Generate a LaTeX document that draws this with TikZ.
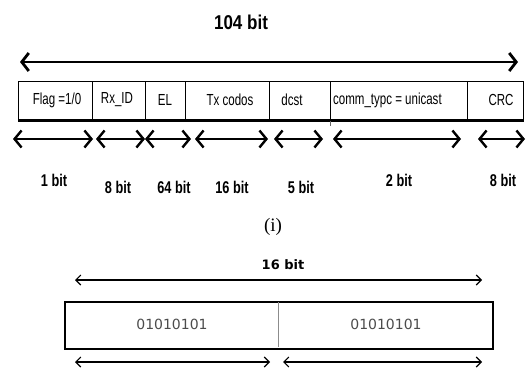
\documentclass[tikz,border=0pt]{standalone}
\usepackage{fontspec}
\usetikzlibrary{arrows.meta}
\newfontfamily\narrowfont[FakeStretch=0.72]{Liberation Sans}
\newfontfamily\bitfont[FakeStretch=0.75]{Liberation Sans}
\newfontfamily\titlefont[FakeStretch=0.85]{Liberation Sans}
\newfontfamily\dejavu{DejaVu Sans}
\newfontfamily\capfont{Liberation Serif}
\begin{document}
\begin{tikzpicture}[x=1pt,y=-1pt,
  field/.style={draw, line width=1pt, minimum height=39pt, inner sep=0pt, anchor=north west},
  fieldtext/.style={font=\narrowfont\fontsize{16}{16}\selectfont, inner sep=0pt},
  bitlabel/.style={font=\bitfont\bfseries\fontsize{17}{17}\selectfont, inner sep=0pt},
  bigarrow/.style={line width=2.8pt, {Straight Barb[length=7pt,width=18pt]}-{Straight Barb[length=7pt,width=18pt]}},
  span/.style={line width=2.4pt, {Straight Barb[length=7pt,width=17pt]}-{Straight Barb[length=7pt,width=17pt]}},
  thinspan/.style={line width=1.1pt, {Straight Barb[length=5pt,width=10pt]}-{Straight Barb[length=5pt,width=10pt]}},
  bytebox/.style={draw, line width=2pt, minimum height=47pt, inner sep=0pt, anchor=north west},
  bytetext/.style={font=\dejavu\fontsize{14}{14}\selectfont, text=black!70, inner sep=0pt}]
\useasboundingbox (0,0) rectangle (528,369);

% ---- 104-bit frame ----
\node[font=\titlefont\bfseries\fontsize{20}{20}\selectfont, inner sep=0pt] (total) at (241,22) {104 bit};
\coordinate (tl) at (20,62);
\coordinate (tr) at (518,62);
\draw[bigarrow] (tl) -- (tr);

% field boxes
\node[field, minimum width=74pt] (flag) at (18,81) {};
\node[field, minimum width=53pt] (rx) at (92,81) {};
\node[field, minimum width=40pt] (el) at (145,81) {};
\node[field, minimum width=84pt] (tx) at (185,81) {};
\node[field, minimum width=61pt] (dst) at (269,81) {};
\node[field, minimum width=137pt] (comm) at (330,81) {};
\node[field, minimum width=56pt] (crc) at (467,81) {};
\draw[line width=3pt] (flag.south west) -- (crc.south east);
\coordinate (tick) at ([yshift=-5pt]comm.south west);
\draw[line width=0.8pt, black!60] (comm.south west) -- (tick);

% field names
\node[fieldtext] (tflag) at (57,100) {Flag =1/0};
\node[fieldtext] (trx) at (117,100) {Rx\_ID};
\node[fieldtext] (tel) at (165,100) {EL};
\node[fieldtext] (ttx) at (230,100) {Tx codos};
\node[fieldtext] (tdst) at (292,100) {dcst};
\node[fieldtext, anchor=west] (tcomm) at (333,100) {comm\_typc = unicast};
\node[fieldtext] (tcrc) at (501,100) {CRC};

% field widths
\coordinate (a1) at (13,139);  \coordinate (b1) at (93,139);
\coordinate (a2) at (96,139);  \coordinate (b2) at (145,139);
\coordinate (a3) at (145,139); \coordinate (b3) at (191,139);
\coordinate (a4) at (195,139); \coordinate (b4) at (268,139);
\coordinate (a5) at (274,139); \coordinate (b5) at (323,139);
\coordinate (a6) at (333,139); \coordinate (b6) at (461,139);
\coordinate (a7) at (478,139); \coordinate (b7) at (525,139);
\draw[span] (a1) -- (b1);
\draw[span] (a2) -- (b2);
\draw[span] (a3) -- (b3);
\draw[span] (a4) -- (b4);
\draw[span] (a5) -- (b5);
\draw[span] (a6) -- (b6);
\draw[span] (a7) -- (b7);

\node[bitlabel] (w1) at (54,180) {1 bit};
\node[bitlabel] (w2) at (118,187) {8 bit};
\node[bitlabel] (w3) at (174,187) {64 bit};
\node[bitlabel] (w4) at (232,187) {16 bit};
\node[bitlabel] (w5) at (301,187) {5 bit};
\node[bitlabel] (w6) at (399,180) {2 bit};
\node[bitlabel] (w7) at (503,180) {8 bit};

\node[font=\capfont\fontsize{19}{19}\selectfont, inner sep=0pt] (cap) at (273,227) {(i)};

% ---- 16-bit code word ----
\node[font=\dejavu\bfseries\fontsize{13}{13}\selectfont, inner sep=0pt] (word) at (283,265) {16 bit};
\coordinate (wl) at (75,280);
\coordinate (wr) at (482,280);
\draw[thinspan] (wl) -- (wr);

\node[bytebox, minimum width=428pt] (code) at (64,301) {};
\coordinate (ctop) at (278,302);
\coordinate (cbot) at (278,347);
\draw[line width=1pt, black!45] (ctop) -- (cbot);
\node[bytetext] (byte1) at (172,324) {01010101};
\node[bytetext] (byte2) at (386,324) {01010101};

\coordinate (l1) at (75,362);  \coordinate (r1) at (270,362);
\coordinate (l2) at (283,362); \coordinate (r2) at (482,362);
\draw[thinspan] (l1) -- (r1);
\draw[thinspan] (l2) -- (r2);
\end{tikzpicture}
\end{document}
